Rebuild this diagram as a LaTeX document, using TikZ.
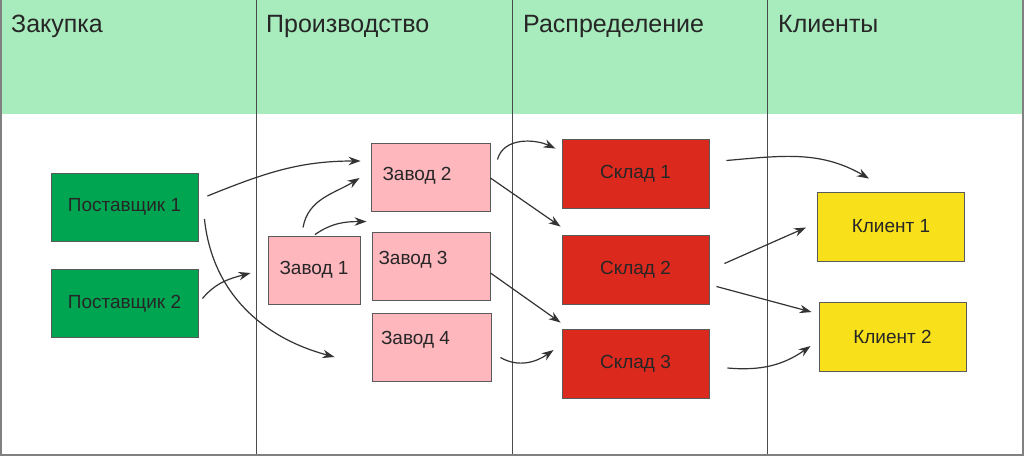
\documentclass[tikz,border=0pt]{standalone}
\usepackage{fontspec}
\setmainfont{Liberation Sans}
\usetikzlibrary{arrows.meta,calc}
\definecolor{hdr}{HTML}{A8EBBD}
\definecolor{supc}{HTML}{00A552}
\definecolor{facc}{HTML}{FFB7BE}
\definecolor{whc}{HTML}{DB291E}
\definecolor{clc}{HTML}{F8E01B}
\definecolor{txt}{HTML}{262626}
\definecolor{edge}{HTML}{5A5A5A}
\definecolor{arr}{HTML}{333333}
\definecolor{sep}{HTML}{4A4A4A}
\definecolor{frame}{HTML}{808080}
\begin{document}
\begin{tikzpicture}[x=1pt,y=-1pt,
  boxfont/.style={font=\fontsize{19}{22}\selectfont},
  box/.style={draw=edge,line width=0.9pt,rectangle,inner sep=0pt,text=txt,boxfont},
  sup/.style={box,fill=supc,minimum width=147pt,minimum height=68pt},
  fac/.style={box,fill=facc},
  wh/.style={box,fill=whc,minimum width=147pt,minimum height=69pt},
  cl/.style={box,fill=clc,minimum width=147pt,minimum height=69pt},
  hd/.style={anchor=base west,text=txt,inner sep=0pt,font=\fontsize{25}{30}\selectfont},
  flow/.style={draw=arr,line width=1.2pt,-{Stealth[length=12pt,width=8.5pt]}}
]
\useasboundingbox (0,0) rectangle (1024,457);
\fill[white] (0,0) rectangle (1024,457);
\fill[hdr] (0,0) rectangle (1024,114);
% column separators
\draw[sep,line width=1pt] (256,0) -- (256,455);
\draw[sep,line width=1pt] (512,0) -- (512,455);
\draw[sep,line width=1pt] (767,0) -- (767,455);
% outer frame
\draw[frame,line width=2pt] (1,0) -- (1,455) -- (1023,455) -- (1023,0);
% headers
\node[hd] (h1) at (11,33) {Закупка};
\node[hd] (h2) at (266,33) {Производство};
\node[hd] (h3) at (523,33) {Распределение};
\node[hd] (h4) at (778,33) {Клиенты};
% suppliers
\node[sup] (p1) at (124.5,207) {Поставщик 1};
\node[sup] (p2) at (124.5,303.5) {Поставщик 2};
% factories
\node[fac,minimum width=92pt,minimum height=68pt] (z1) at (314,270) {Завод 1};
\node[fac,minimum width=119pt,minimum height=68pt,label={[text=txt,boxfont,xshift=-13.5pt,yshift=1pt]center:Завод 2}] (z2) at (430.5,177) {};
\node[fac,minimum width=118pt,minimum height=68pt,label={[text=txt,boxfont,xshift=-18pt,yshift=6pt]center:Завод 3}] (z3) at (431,266) {};
\node[fac,minimum width=119pt,minimum height=68pt,label={[text=txt,boxfont,xshift=-16pt,yshift=7.5pt]center:Завод 4}] (z4) at (431.5,347.5) {};
% warehouses
\node[wh] (s1) at (635.5,173.5) {Склад 1};
\node[wh] (s2) at (635.5,269.5) {Склад 2};
\node[wh] (s3) at (635.5,363.5) {Склад 3};
% clients
\node[cl] (k1) at (891,226.5) {Клиент 1};
\node[cl] (k2) at (892.5,337) {Клиент 2};
% connectors
\draw[flow] ($(p1.east)+(9,-11)$) to[out=22,in=180] ($(z2.west)+(-10,-16)$);
\draw[flow] ($(p1.east)+(6,12)$) to[out=-84,in=165] ($(z4.west)+(-37,9.5)$);
\draw[flow] ($(p2.east)+(4,-5)$) to[out=50,in=195] ($(z1.west)+(-17,3)$);
\draw[flow] ($(z1.north)+(-11,-8)$) to[out=80,in=212] ($(z2.west)+(-11,1)$);
\draw[flow] ($(z1.north)+(1,-1)$) to[out=35,in=180] ($(z3.north west)+(-5,-10)$);
\draw[flow] ($(z2.east)+(0,1)$) -- ($(s2.north west)+(-1,-8)$);
\draw[flow] ($(z3.east)+(0,7)$) -- ($(s3.north west)+(-1,-6)$);
\draw[flow] ($(z2.north east)+(7,17)$) to[out=75,in=155] ($(s1.north west)+(-6,10)$);
\draw[flow] ($(z4.east)+(9,10)$) to[out=-30,in=215] ($(s3.west)+(-8,-13.5)$);
\draw[flow] ($(s1.east)+(17,-13)$) to[out=5,in=150] ($(k1.north)+(-22,-13)$);
\draw[flow] ($(s2.east)+(15,-6)$) -- ($(k1.west)+(-11,1)$);
\draw[flow] ($(s2.east)+(7,17)$) -- ($(k2.north west)+(-7,10)$);
\draw[flow] ($(s3.east)+(18,4.5)$) to[out=-5,in=215] ($(k2.west)+(-8,9)$);
\end{tikzpicture}
\end{document}
